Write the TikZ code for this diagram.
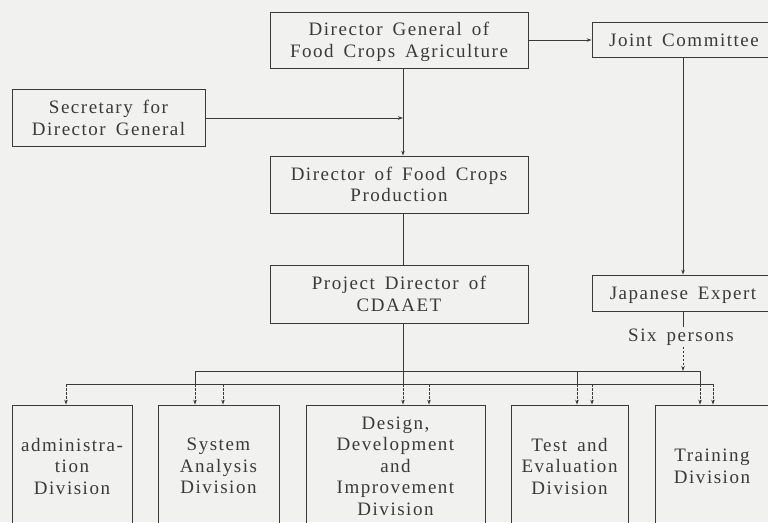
\documentclass[tikz,border=0pt]{standalone}
\usepackage{fontspec}
\setmainfont{Liberation Serif}[LetterSpace=8,WordSpace=1.6]
\usetikzlibrary{arrows.meta,calc}
\definecolor{paper}{RGB}{241,241,239}
\definecolor{ink}{RGB}{58,58,58}
\begin{document}
\begin{tikzpicture}[x=1pt,y=-1pt,
  box/.style={draw=ink, line width=0.8pt, inner sep=0pt, align=center,
    text=ink, text depth=0pt, font=\fontsize{19}{21.5}\selectfont},
  lbl/.style={inner sep=1pt, text=ink, font=\fontsize{19}{21.5}\selectfont},
  link/.style={draw=ink, line width=0.8pt},
  arr/.style={link, -{Stealth[length=5pt,width=3.5pt]}},
  drop/.style={arr, dash pattern=on 2.5pt off 1.5pt}
]
\fill[paper] (0,0) rectangle (768,522);
\useasboundingbox (0,0) rectangle (768,522);
\clip (0,0) rectangle (768,522);

% management chain
\node[box, minimum width=258pt, minimum height=56pt] (dg) at (399,40)
  {Director General of\\Food Crops Agriculture};
\node[box, minimum width=184pt, minimum height=35pt] (jc) at (684,40)
  {Joint Committee};
\node[box, minimum width=193pt, minimum height=57pt] (sec) at (108.5,118)
  {Secretary for\\Director General};
\node[box, minimum width=258pt, minimum height=57pt] (dfcp) at (399,184.5)
  {Director of Food Crops\\Production};
\node[box, minimum width=258pt, minimum height=58pt] (pd) at (399,294)
  {Project Director of\\CDAAET};
\node[box, minimum width=182pt, minimum height=36pt] (je) at (683,293)
  {Japanese Expert};
\node[lbl] (six) at (681,337) {Six persons};

% divisions
\node[box, minimum width=120pt, minimum height=122pt] (adm) at (72,466)
  {administra-\\tion\\Division};
\node[box, minimum width=121pt, minimum height=122pt] (sys) at (218.5,466)
  {System\\Analysis\\Division};
\node[box, minimum width=179pt, minimum height=122pt] (des) at (395.5,466)
  {Design,\\Development\\and\\Improvement\\Division};
\node[box, minimum width=117pt, minimum height=122pt] (tst) at (569.5,466)
  {Test and\\Evaluation\\Division};
\node[box, minimum width=114pt, minimum height=122pt] (trn) at (712,466)
  {Training\\Division};

% spine and bus positions
\coordinate (sp) at (403,0);
\coordinate (jx) at (683,0);
\coordinate (ub1) at (195,371);
\coordinate (ub2) at (700,371);
\coordinate (ubt) at (577,371);
\coordinate (lb1) at (66,384);
\coordinate (lb2) at (713,384);
\coordinate (lbs) at (223,384);
\coordinate (lbd) at (429,384);
\coordinate (lbt) at (592,384);

% upper connections
\draw[arr] (dg.east) -- (jc.west);
\draw[arr] (dg.south -| sp) -- (dfcp.north -| sp);
\draw[arr] (sec.east) -- (sec.east -| sp);
\draw[link] (dfcp.south -| sp) -- (pd.north -| sp);
\draw[arr] (jc.south -| jx) -- (je.north -| jx);
\draw[link] (je.south -| jx) -- (six.north -| jx);
\draw[drop] (six.south -| jx) -- (ub1 -| jx);

% buses
\draw[link] (ub1) -- (ub2);
\draw[link] (lb1) -- (lb2);
\draw[link] (pd.south -| sp) -- (lb1 -| sp);
\draw[link] (ub1) -- (lb1 -| ub1);
\draw[link] (ubt) -- (lb1 -| ubt);
\draw[link] (ub2) -- (lb1 -| ub2);

% drops to divisions
\draw[drop] (lb1) -- (adm.north -| lb1);
\draw[drop] (lb1 -| ub1) -- (sys.north -| ub1);
\draw[drop] (lbs) -- (sys.north -| lbs);
\draw[drop] (lb1 -| sp) -- (des.north -| sp);
\draw[drop] (lbd) -- (des.north -| lbd);
\draw[drop] (lb1 -| ubt) -- (tst.north -| ubt);
\draw[drop] (lbt) -- (tst.north -| lbt);
\draw[drop] (lb1 -| ub2) -- (trn.north -| ub2);
\draw[drop] (lb2) -- (trn.north -| lb2);
\end{tikzpicture}
\end{document}
